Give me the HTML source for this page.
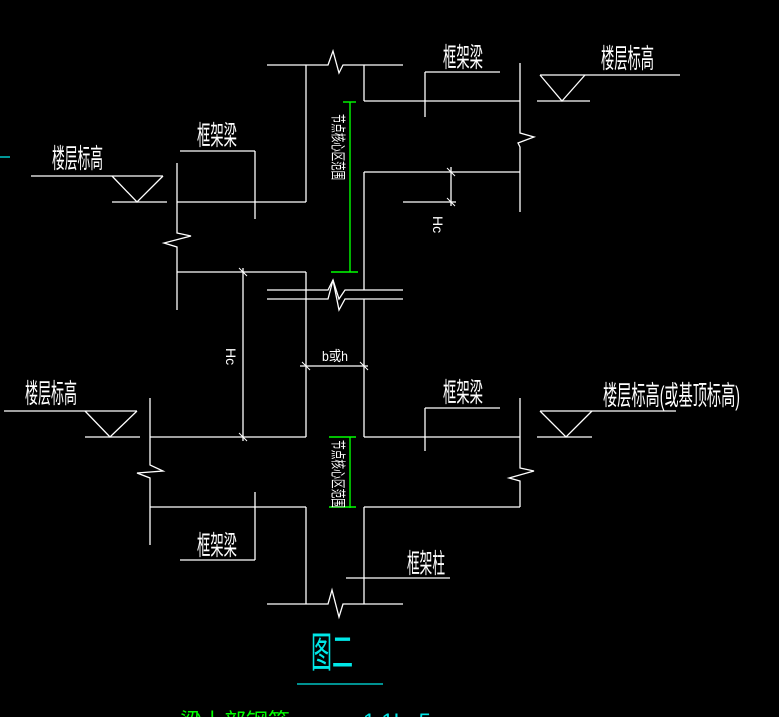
<!DOCTYPE html>
<html><head><meta charset="utf-8"><style>
html,body{margin:0;padding:0;background:#000;overflow:hidden}
svg{display:block}
text{font-family:"Liberation Sans","Noto Sans CJK SC","WenQuanYi Zen Hei",sans-serif;fill:#fff}
</style></head><body>
<svg width="779" height="717" viewBox="0 0 779 717" xmlns="http://www.w3.org/2000/svg">
<rect width="779" height="717" fill="#000"/>
<g stroke="#fff" stroke-width="1.3" fill="none">
<polyline points="267,65 328,65 333,51 339,73 343,65 403,65"/>
<line x1="306" y1="65" x2="306" y2="202"/>
<line x1="364" y1="65" x2="364" y2="101"/>
<line x1="364" y1="101" x2="520" y2="101"/>
<line x1="425" y1="72" x2="500" y2="72"/>
<line x1="425" y1="72" x2="425" y2="117"/>
<polyline points="520,63 520,133 534,137 518,143 520,147 520,212"/>
<line x1="540" y1="75" x2="680" y2="75"/>
<polyline points="540,75 562,101 585,75"/>
<line x1="537" y1="101" x2="590" y2="101"/>
<line x1="364" y1="172" x2="364" y2="290"/>
<line x1="364" y1="172" x2="520" y2="172"/>
<line x1="451" y1="167" x2="451" y2="206"/>
<line x1="403" y1="202" x2="456" y2="202"/>
<line x1="31" y1="176" x2="163" y2="176"/>
<polyline points="112,176 137,202 163,176"/>
<line x1="112" y1="202" x2="167" y2="202"/>
<line x1="180" y1="151" x2="255" y2="151"/>
<line x1="255" y1="151" x2="255" y2="219"/>
<polyline points="177,163 177,233 191,236 164,243 177,247 177,310"/>
<line x1="177" y1="202" x2="306" y2="202"/>
<line x1="177" y1="272" x2="306" y2="272"/>
<line x1="306" y1="272" x2="306" y2="437"/>
<line x1="243" y1="268" x2="243" y2="441"/>
<polyline points="267,290 328,290 333,280 339,299 345,290 403,290"/>
<polyline points="267,299 328,299 333,280 339,310 345,299 403,299"/>
<line x1="364" y1="299" x2="364" y2="437"/>
<line x1="300" y1="366" x2="368" y2="366"/>
<line x1="150" y1="437" x2="306" y2="437"/>
<polyline points="150,398 150,465 163,471 137,473 150,478 150,545"/>
<line x1="4" y1="411" x2="137" y2="411"/>
<polyline points="85,411 110,437 137,411"/>
<line x1="85" y1="437" x2="140" y2="437"/>
<line x1="364" y1="437" x2="520" y2="437"/>
<line x1="425" y1="408" x2="500" y2="408"/>
<line x1="425" y1="408" x2="425" y2="451"/>
<polyline points="520,398 520,468 534,471 509,478 520,481 520,507"/>
<line x1="540" y1="411" x2="676" y2="411"/>
<polyline points="540,411 566,437 592,411"/>
<line x1="537" y1="437" x2="592" y2="437"/>
<line x1="150" y1="507" x2="306" y2="507"/>
<line x1="255" y1="492" x2="255" y2="560"/>
<line x1="180" y1="560" x2="255" y2="560"/>
<line x1="306" y1="507" x2="306" y2="604"/>
<line x1="364" y1="507" x2="364" y2="604"/>
<line x1="364" y1="507" x2="520" y2="507"/>
<line x1="346" y1="578" x2="450" y2="578"/>
<polyline points="267,604 328,604 332,590 339,617 343,604 403,604"/>
</g>
<g stroke="#fff" stroke-width="1">
<line x1="447" y1="168" x2="455" y2="176"/><line x1="447" y1="198" x2="455" y2="206"/>
<line x1="239" y1="268" x2="247" y2="276"/><line x1="239" y1="433" x2="247" y2="441"/>
<line x1="302" y1="362" x2="310" y2="370"/><line x1="360" y1="362" x2="368" y2="370"/>
</g>
<g stroke="#00ff00" stroke-width="1.4">
<line x1="350" y1="102" x2="350" y2="272"/>
<line x1="343" y1="102" x2="356" y2="102"/>
<line x1="331" y1="272" x2="358" y2="272"/>
<line x1="350" y1="437" x2="350" y2="508"/>
<line x1="329" y1="437" x2="356" y2="437"/>
<line x1="329" y1="507" x2="356" y2="507"/>
</g>
<g stroke="#00e8e8" stroke-width="1.3">
<line x1="0" y1="157" x2="10" y2="157"/>
<line x1="297" y1="684" x2="383" y2="684"/>
</g>
<g font-size="27">
<text x="52" y="168" textLength="51" lengthAdjust="spacingAndGlyphs">楼层标高</text>
<text x="197" y="145" textLength="40" lengthAdjust="spacingAndGlyphs">框架梁</text>
<text x="443" y="67" textLength="40" lengthAdjust="spacingAndGlyphs">框架梁</text>
<text x="601" y="68" textLength="53" lengthAdjust="spacingAndGlyphs">楼层标高</text>
<text x="25" y="403" textLength="52" lengthAdjust="spacingAndGlyphs">楼层标高</text>
<text x="443" y="402" textLength="40" lengthAdjust="spacingAndGlyphs">框架梁</text>
<text x="603" y="405" textLength="137" lengthAdjust="spacingAndGlyphs">楼层标高(或基顶标高)</text>
<text x="197" y="555" textLength="40" lengthAdjust="spacingAndGlyphs">框架梁</text>
<text x="407" y="573" textLength="38" lengthAdjust="spacingAndGlyphs">框架柱</text>
</g>
<text x="322" y="361" font-size="14" textLength="26" lengthAdjust="spacingAndGlyphs">b或h</text>
<text transform="translate(433,216) rotate(90)" font-size="14">Hc</text>
<text transform="translate(226,348) rotate(90)" font-size="14">Hc</text>
<text transform="translate(333,114) rotate(90)" font-size="15" textLength="66" lengthAdjust="spacingAndGlyphs">节点核心区范围</text>
<text transform="translate(333,440) rotate(90)" font-size="15" textLength="68" lengthAdjust="spacingAndGlyphs">节点核心区范围</text>
<text x="311" y="667" font-size="42" style="fill:#00e8e8" textLength="42" lengthAdjust="spacingAndGlyphs">图二</text>
<text x="180" y="729" font-size="22" style="fill:#00ff00">梁上部钢筋</text>
<text x="363" y="729" font-size="22" style="fill:#00e8e8">1 1L=5</text>
</svg>
</body></html>
